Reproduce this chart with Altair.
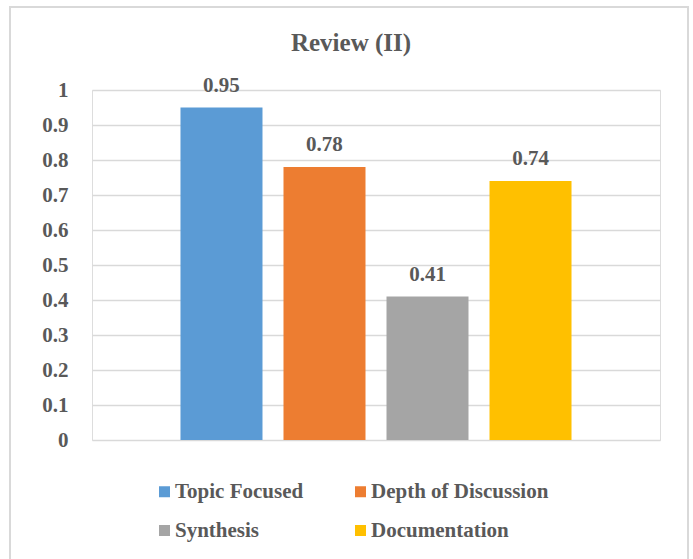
import altair as alt
import pandas as pd

categories = ["Topic Focused", "Depth of Discussion", "Synthesis", "Documentation"]
values = [0.95, 0.78, 0.41, 0.74]
colors = ["#5B9BD5", "#ED7D31", "#A5A5A5", "#FFC000"]
y_ticks = [0, 0.1, 0.2, 0.3, 0.4, 0.5, 0.6, 0.7, 0.8, 0.9, 1]
# legend is filled column by column: list entries so rows read as in the reference
legend_order = ["Topic Focused", "Synthesis", "Depth of Discussion", "Documentation"]

FONT = "Liberation Serif"
TEXT = "#595959"
GRID = "#d9d9d9"

df = pd.DataFrame({"category": categories, "value": values})
color_of = dict(zip(categories, colors))

y_axis = alt.Axis(values=y_ticks, title=None, format=".1~f", labelOverlap=False,
                  domain=False, ticks=False, labelPadding=24,
                  labelFont=FONT, labelFontSize=21, labelFontWeight="bold",
                  labelColor=TEXT, grid=True, gridColor=GRID, gridWidth=1.5)
y_scale = alt.Scale(domain=[0, 1])

base = alt.Chart(df).encode(
    x=alt.X("category:N", sort=categories, axis=None,
            scale=alt.Scale(paddingInner=0.2039, paddingOuter=0.859)),
)

bars = base.mark_bar().encode(
    y=alt.Y("value:Q", scale=y_scale, axis=y_axis),
    color=alt.Color("category:N",
                    scale=alt.Scale(domain=legend_order,
                                    range=[color_of[c] for c in legend_order]),
                    legend=alt.Legend(orient="none", legendX=62, legendY=391,
                                      columns=2, title=None, symbolType="square",
                                      symbolSize=121, symbolStrokeWidth=0,
                                      labelFont=FONT, labelFontSize=21,
                                      labelFontWeight="bold", labelColor=TEXT,
                                      columnPadding=46, rowPadding=17,
                                      labelOffset=0, labelLimit=0)),
)

labels = base.mark_text(dy=-16, baseline="alphabetic", font=FONT, fontWeight="bold",
                        fontSize=21, color=TEXT).encode(
    y=alt.Y("value:Q", scale=y_scale, axis=y_axis),
    text=alt.Text("value:Q", format=".2f"),
)

border = alt.Chart(pd.DataFrame({"b": [0]})).mark_rect(
    fillOpacity=0, stroke=GRID, strokeWidth=2
).encode(x=alt.value(-82), x2=alt.value(596), y=alt.value(-83), y2=alt.value(480))

chart = alt.layer(border, bars, labels).properties(
    width=568, height=350,
    title=alt.TitleParams("Review (II)", font=FONT, fontSize=25, fontWeight="bold",
                          color=TEXT, anchor="middle", frame="group", dx=-25,
                          baseline="alphabetic", offset=-70),
    padding={"left": 92, "top": 90, "right": 33, "bottom": 119},
    autosize="none",
).configure_view(stroke=None).configure(background="white")

chart.save("out.html", embed_options={"renderer": "svg", "actions": False})
